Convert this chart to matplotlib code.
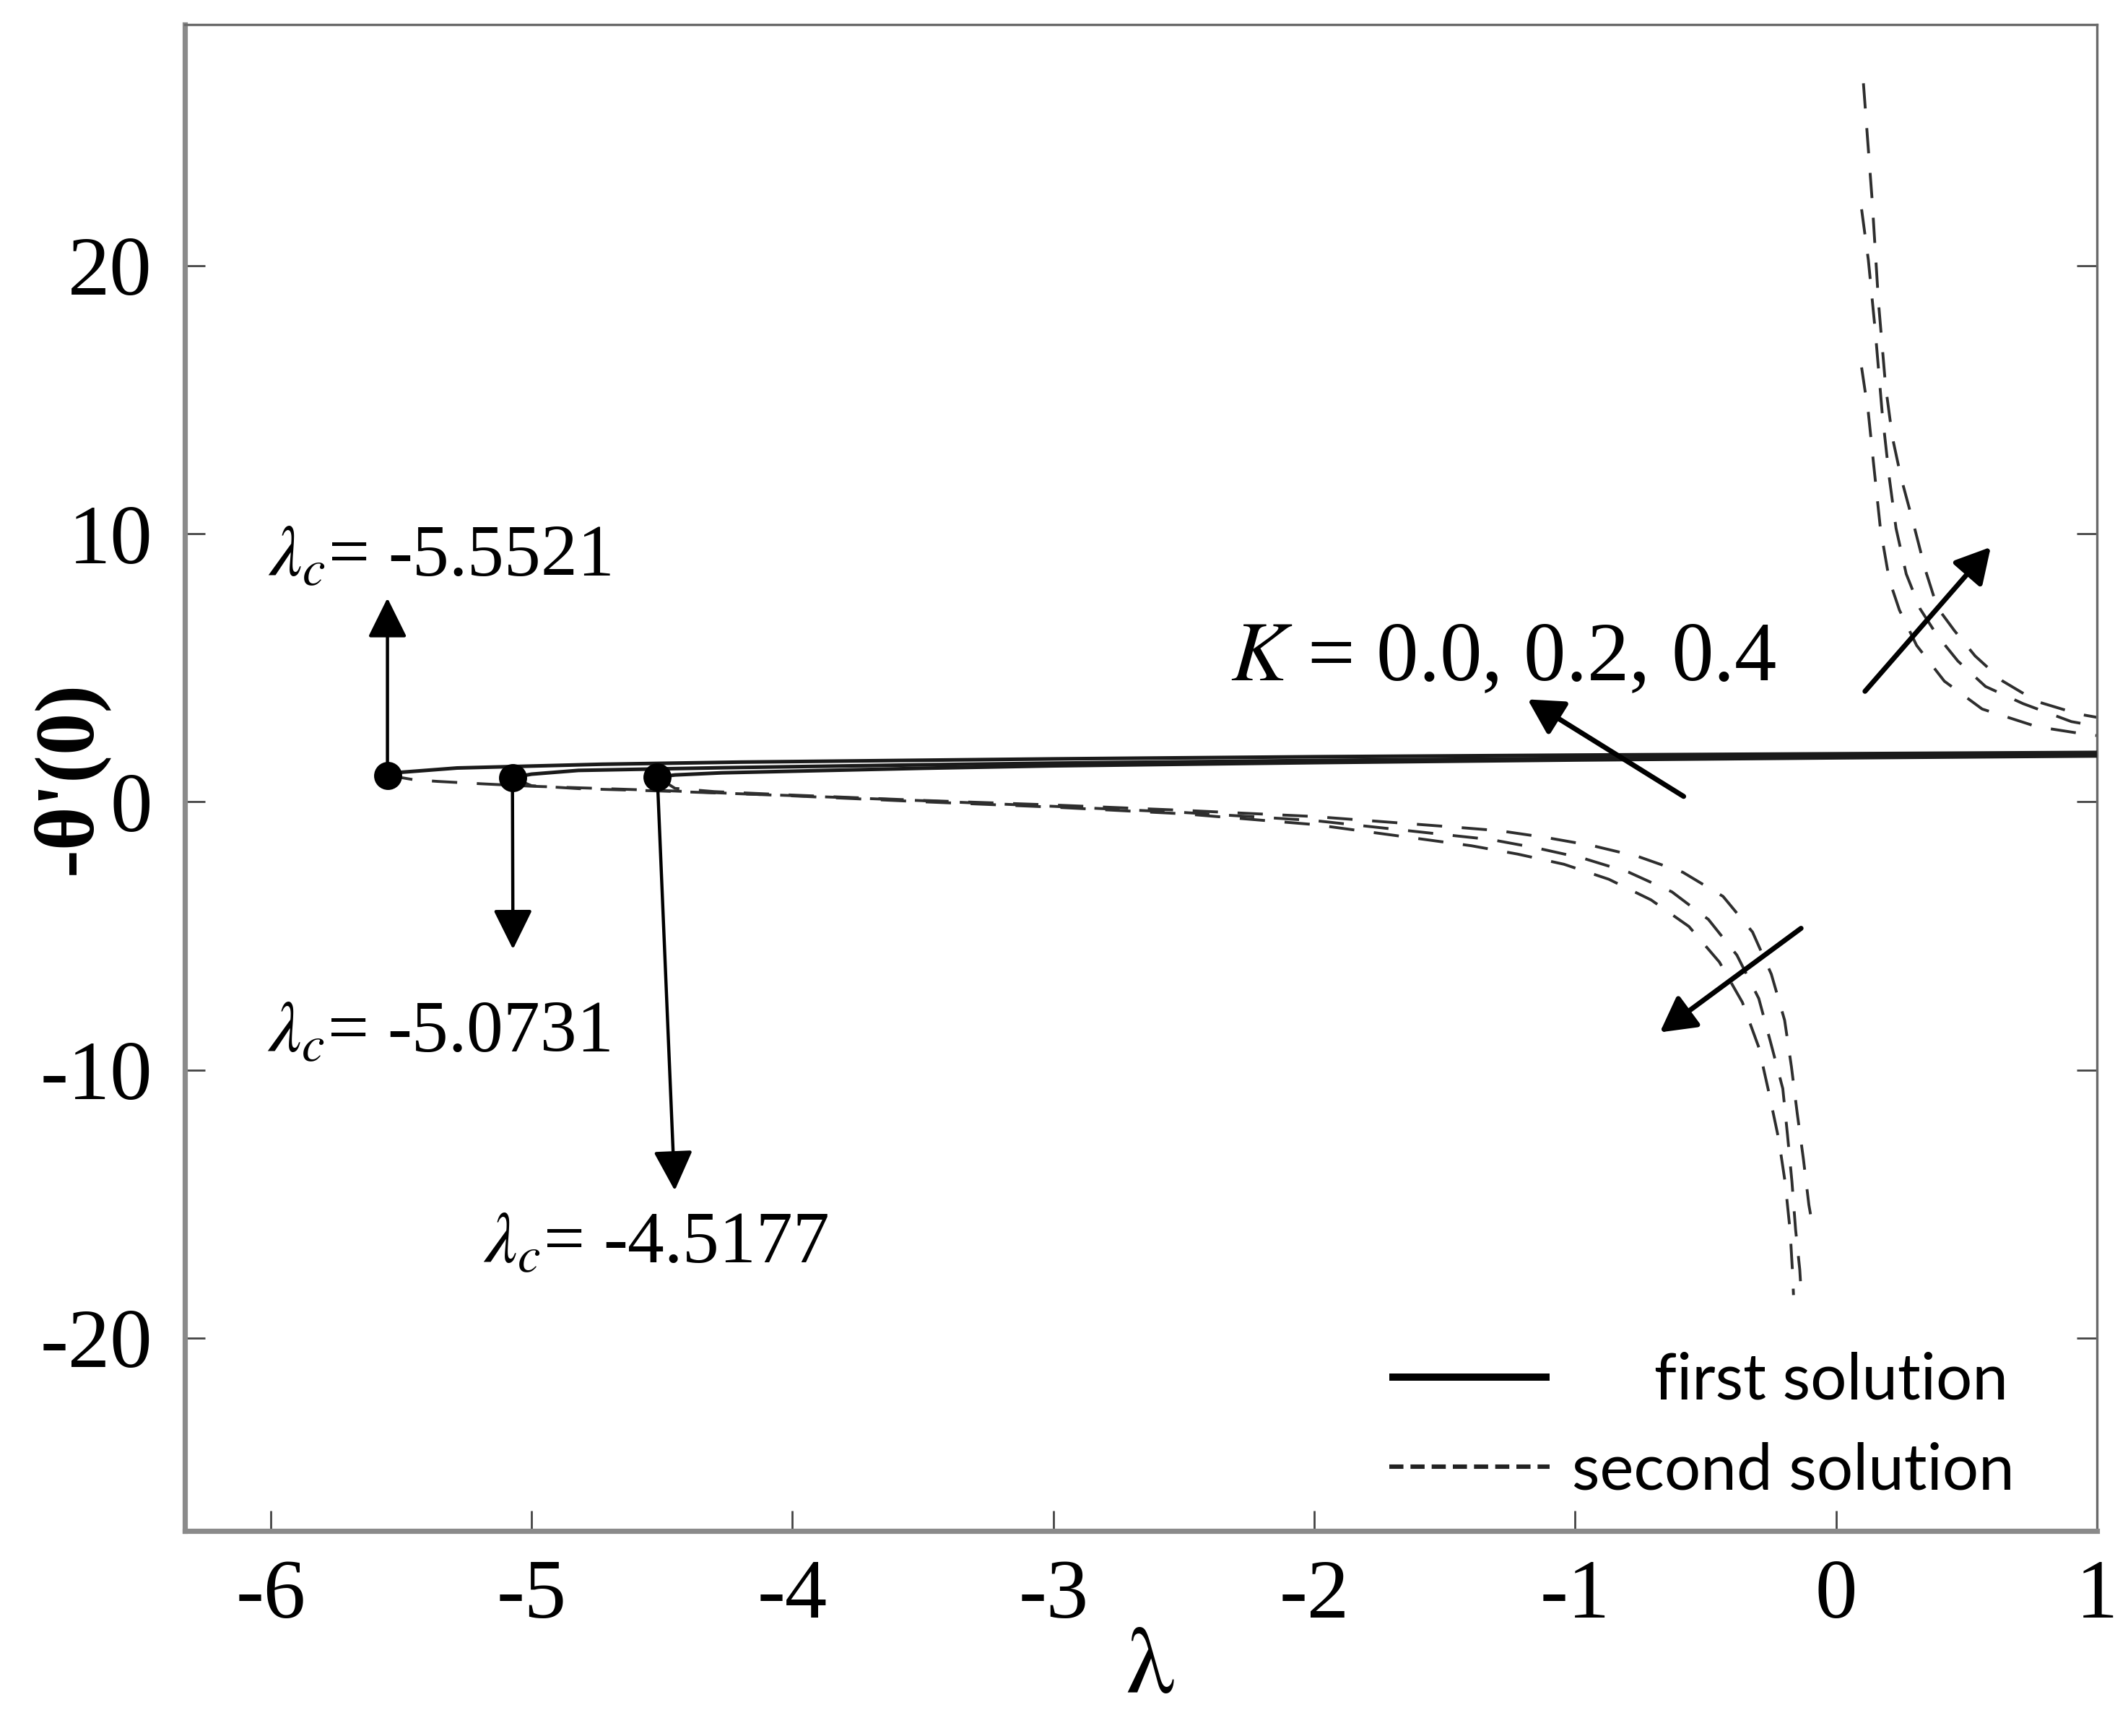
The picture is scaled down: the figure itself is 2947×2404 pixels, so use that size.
"""
-theta'(0) against lambda for K = 0.0, 0.2, 0.4: first (solid) and second (dashed)
solutions, with the critical points lambda_c marked.
"""

import matplotlib.pyplot as plt
from matplotlib.lines import Line2D


# ── data ─────────────────────────────────────────────────────────────────────

K_VALUES = [0.0, 0.2, 0.4]
LAM_C = [-4.5177, -5.0731, -5.5521]          # critical points, one per K
THETA_C = [0.92, 0.90, 0.99]                 # -theta'(0) at the critical points

# first solution
first_lam_00 = [-4.5177, -4.45, -4.27, -3.5, -3.0, -2.0, -1.0, 0.0, 1.0]
first_y_00 = [0.92, 1.00, 1.08, 1.25, 1.34, 1.46, 1.56, 1.64, 1.71]
first_lam_02 = [-5.0731, -5.0, -4.82, -4.27, -3.5, -3.0, -2.0, -1.0, 0.0, 1.0]
first_y_02 = [0.90, 1.03, 1.17, 1.27, 1.38, 1.44, 1.54, 1.62, 1.69, 1.75]
first_lam_04 = [-5.5521, -5.5, -5.285, -4.73, -4.2, -3.5, -3.0, -2.0, -1.0, 0.0, 1.0]
first_y_04 = [0.99, 1.10, 1.26, 1.40, 1.48, 1.55, 1.60, 1.68, 1.74, 1.79, 1.84]

# second solution, branch left of the singularity
second_lam_00 = [-4.5177, -4.45, -4.3, -4.0, -3.5, -3.0, -2.5, -2.0, -1.456, -1.290,
                 -1.107, -0.932, -0.756, -0.587, -0.433, -0.320, -0.248, -0.197,
                 -0.171, -0.149, -0.125, -0.104, -0.094]
second_y_00 = [0.92, 0.50, 0.38, 0.25, 0.05, -0.12, -0.32, -0.55, -0.95, -1.08,
               -1.34, -1.64, -2.05, -2.63, -3.53, -4.86, -6.43, -8.15,
               -9.88, -11.6, -13.33, -15.04, -15.6]
second_lam_02 = [-5.0731, -5.0, -4.82, -4.5, -4.0, -3.5, -3.0, -2.5, -2.0, -1.477,
                 -1.322, -1.144, -0.968, -0.794, -0.629, -0.489, -0.380, -0.296,
                 -0.250, -0.204, -0.186, -0.169, -0.155, -0.139, -0.133]
second_y_02 = [0.90, 0.60, 0.49, 0.40, 0.23, 0.04, -0.17, -0.40, -0.70, -1.25,
               -1.41, -1.73, -2.11, -2.63, -3.36, -4.39, -5.72, -7.34,
               -9.0, -10.7, -12.43, -14.17, -15.96, -17.45, -18.4]
second_lam_04 = [-5.5521, -5.45, -5.36, -5.19, -5.0, -4.5, -4.0, -3.5, -3.0, -2.5,
                 -2.0, -1.398, -1.221, -1.043, -0.871, -0.709, -0.564, -0.447,
                 -0.359, -0.296, -0.257, -0.220, -0.195, -0.176, -0.167, -0.163]
second_y_04 = [0.99, 0.82, 0.76, 0.67, 0.58, 0.42, 0.22, 0.0, -0.2, -0.45,
               -0.85, -1.64, -1.95, -2.33, -2.89, -3.66, -4.65, -5.98,
               -7.48, -9.16, -10.86, -12.57, -14.2, -16.0, -17.5, -18.4]

# second solution, branch right of the singularity
upper_lam_00 = [0.098, 0.124, 0.144, 0.17, 0.204, 0.243, 0.309, 0.415, 0.56, 0.77, 0.955, 1.0]
upper_y_00 = [16.2, 14.5, 12.6, 10.2, 8.28, 7.15, 5.83, 4.5, 3.46, 2.8, 2.52, 2.47]
upper_lam_02 = [0.098, 0.124, 0.151, 0.177, 0.204, 0.23, 0.269, 0.322, 0.388, 0.467,
                0.573, 0.717, 0.902, 1.0]
upper_y_02 = [22.1, 20.2, 17.5, 14.5, 12.1, 10.2, 8.5, 7.2, 6.2, 5.25,
              4.3, 3.66, 2.99, 2.82]
upper_lam_04 = [0.105, 0.138, 0.163, 0.19, 0.216, 0.249, 0.296, 0.342, 0.388, 0.454,
                0.533, 0.639, 0.770, 0.93, 1.0]
upper_y_04 = [26.8, 22.5, 18.6, 15.5, 13.6, 12.1, 10.4, 8.66, 7.25, 6.38,
              5.44, 4.5, 3.74, 3.27, 3.15]

X_TICKS = [-6, -5, -4, -3, -2, -1, 0, 1]
Y_TICKS = [-20, -10, 0, 10, 20]


# ── style ────────────────────────────────────────────────────────────────────

plt.rcParams["font.family"] = ["Liberation Serif", "DejaVu Serif"]
plt.rcParams["mathtext.fontset"] = "stix"
plt.rcParams["axes.unicode_minus"] = False

SOLID_KW = dict(color="#1a1a1a", lw=1.8, solid_capstyle="butt", zorder=3)
DASH_KW = dict(color="#2e2e2e", lw=1.4, dashes=(9, 7), zorder=2)
THIN_ARROW = dict(arrowstyle="-|>,head_length=0.85,head_width=0.42",
                  mutation_scale=20, lw=1.6, color="black", shrinkA=0, shrinkB=0)
BOLD_ARROW = dict(arrowstyle="-|>,head_length=0.82,head_width=0.45",
                  mutation_scale=18, lw=2.5, color="black", shrinkA=0, shrinkB=0)


def plot_curves(ax: plt.Axes) -> None:
    for lam, y in [(first_lam_00, first_y_00), (first_lam_02, first_y_02),
                   (first_lam_04, first_y_04)]:
        ax.plot(lam, y, **SOLID_KW)
    for lam, y in [(second_lam_00, second_y_00), (second_lam_02, second_y_02),
                   (second_lam_04, second_y_04), (upper_lam_00, upper_y_00),
                   (upper_lam_02, upper_y_02), (upper_lam_04, upper_y_04)]:
        ax.plot(lam, y, **DASH_KW)
    ax.plot(LAM_C, THETA_C, "o", ms=13, color="black", zorder=5)


def annotate(ax: plt.Axes) -> None:
    # critical-point call-outs
    tips = [(-4.451, -14.5), (-5.071, -5.5), (-5.5521, 7.6)]
    labels = [(-5.186, -17.2), (-6.014, -9.33), (-6.011, 8.43)]
    for lc, yc, tip, pos in zip(LAM_C, THETA_C, tips, labels):
        ax.annotate("", xy=tip, xytext=(lc, yc), arrowprops=THIN_ARROW, zorder=4)
        ax.text(pos[0], pos[1], rf"$\lambda_c$= {lc:.4f}", fontsize=36.5,
                ha="left", va="baseline")

    # direction of increasing K
    ax.annotate("", xy=(-1.182, 3.82), xytext=(-0.584, 0.2), arrowprops=BOLD_ARROW)
    ax.annotate("", xy=(0.593, 9.5), xytext=(0.111, 4.12), arrowprops=BOLD_ARROW)
    ax.annotate("", xy=(-0.675, -8.6), xytext=(-0.134, -4.72), arrowprops=BOLD_ARROW)
    ax.text(-2.321, 4.53, r"$K$ = " + ", ".join(f"{k:.1f}" for k in K_VALUES),
            fontsize=42, ha="left", va="baseline")


def style_axes(ax: plt.Axes) -> None:
    ax.set_xlim(-6.33, 1.0)
    ax.set_ylim(-27.2, 29.0)
    ax.set_xticks(X_TICKS)
    ax.set_yticks(Y_TICKS)
    ax.tick_params(direction="in", length=10, width=1.0, color="#444444",
                   labelsize=42, right=True, top=False)
    ax.tick_params(axis="x", pad=14)
    ax.tick_params(axis="y", pad=16)

    for side in ["left", "bottom"]:
        ax.spines[side].set_linewidth(2.6)
        ax.spines[side].set_color("#8a8a8a")
    for side in ["top", "right"]:
        ax.spines[side].set_linewidth(1.2)
        ax.spines[side].set_color("#6a6a6a")

    ax.set_xlabel("λ", fontsize=48, fontfamily="STIXGeneral")
    ax.xaxis.set_label_coords(0.505, -0.064)
    ax.set_ylabel("-θ'(0)", fontsize=42, fontweight="bold")
    ax.yaxis.set_label_coords(-0.040, 0.5)

    handles = [Line2D([], [], color="black", lw=3.6, solid_capstyle="butt"),
               Line2D([], [], color="#222222", lw=2.2, dashes=(3.2, 1.6))]
    ax.legend(handles, ["     first solution", "second solution"],
              loc="lower right", bbox_to_anchor=(0.957, 0.02), frameon=False,
              borderpad=0, borderaxespad=0, handlelength=2.5, handletextpad=0.35,
              labelspacing=0.48, prop={"family": "Lato", "size": 32})


def main() -> None:
    fig = plt.figure(figsize=(14.735, 12.02), dpi=200)
    ax = fig.add_axes([0.0867, 0.1181, 0.8987, 0.8679])
    plot_curves(ax)
    annotate(ax)
    style_axes(ax)
    fig.savefig("out.png", dpi=200, facecolor="white")
    plt.close(fig)


if __name__ == "__main__":
    main()
